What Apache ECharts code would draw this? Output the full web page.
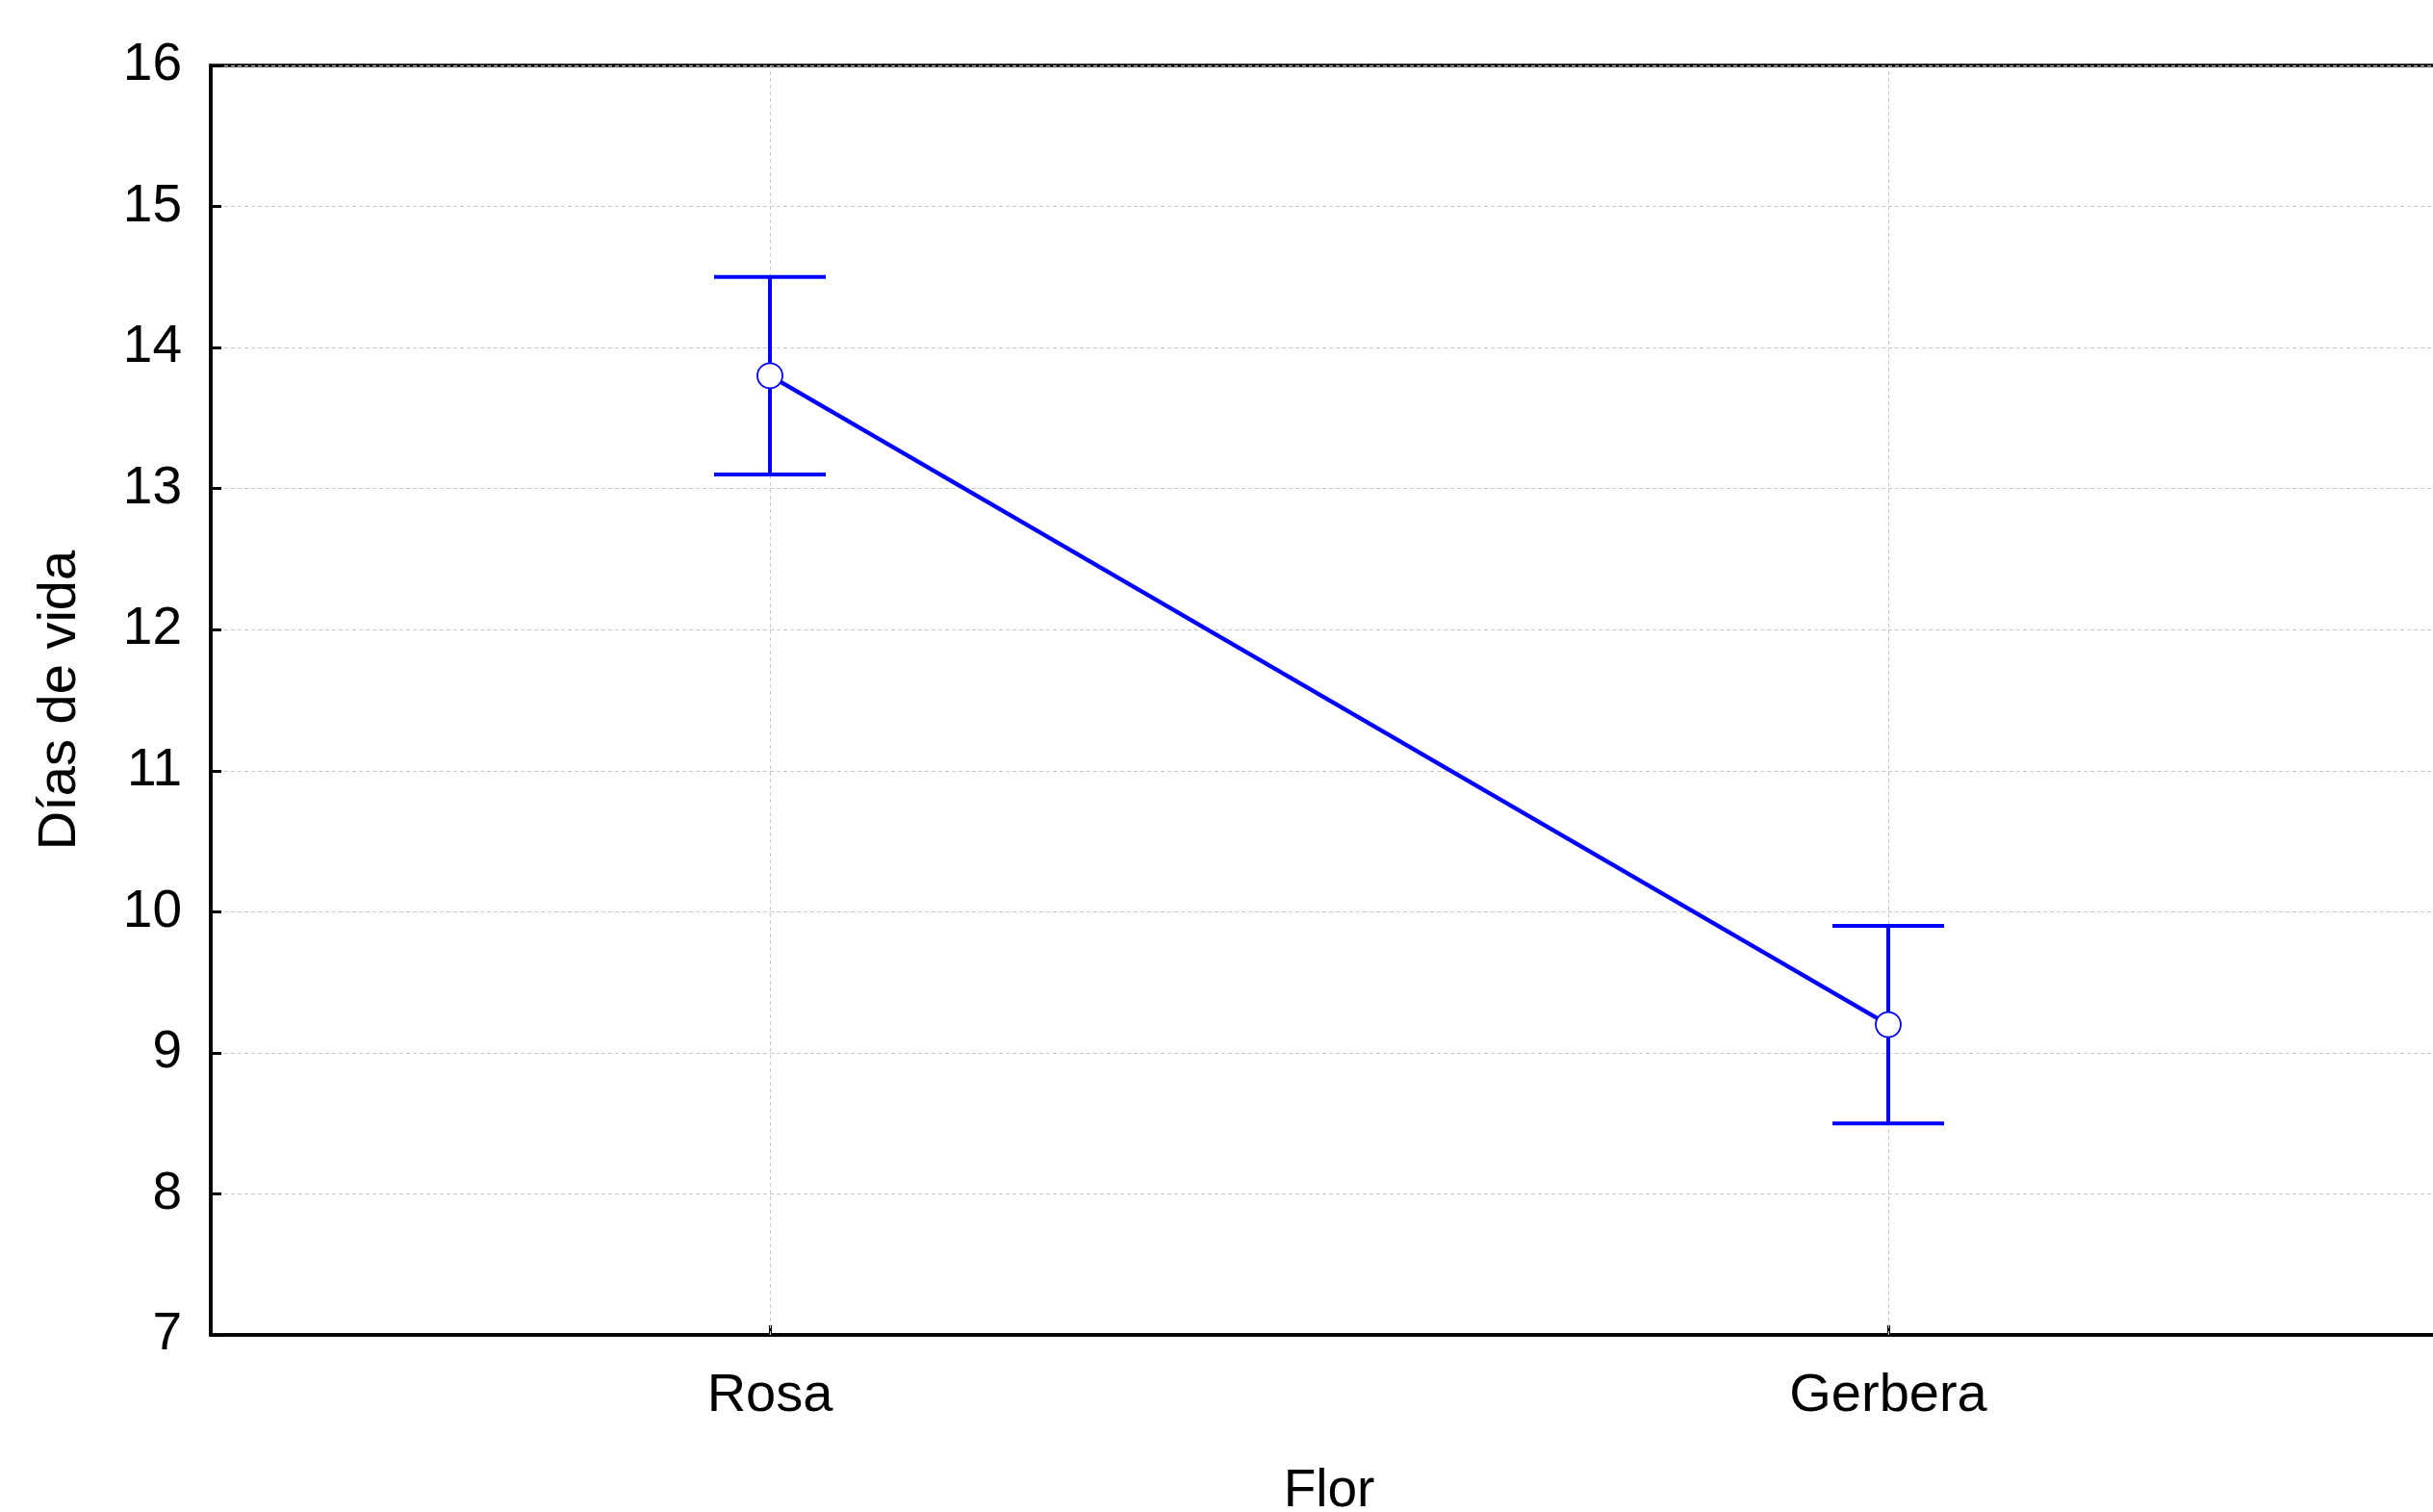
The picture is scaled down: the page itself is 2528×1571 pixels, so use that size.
<!DOCTYPE html>
<html>
<head>
<meta charset="utf-8">
<script src="https://cdn.jsdelivr.net/npm/echarts@6/dist/echarts.min.js"></script>
<style>
html,body{margin:0;padding:0;background:#fff;}
#chart{width:2528px;height:1571px;}
</style>
</head>
<body>
<div id="chart"></div>
<script>
var categories = ['Rosa', 'Gerbera'];
var means = [13.8, 9.2];
var lowers = [13.1, 8.5];
var uppers = [14.5, 9.9];
var yMin = 7, yMax = 16, yInterval = 1;
var xTitle = 'Flor';
var yTitle = 'Días de vida';

var FONT = '"Liberation Sans", Arial, sans-serif';
var BLUE = '#0000ff';

var errData = categories.map(function (c, i) { return [i, lowers[i], uppers[i]]; });

var chart = echarts.init(document.getElementById('chart'), null, {renderer: 'canvas'});
chart.setOption({
  animation: false,
  backgroundColor: '#ffffff',
  grid: {
    left: 219, top: 68, width: 2324, height: 1319,
    outerBoundsMode: 'none',
    containLabel: false,
    show: true, borderColor: '#000', borderWidth: 3.5, backgroundColor: 'transparent'
  },
  xAxis: {
    type: 'category',
    data: categories,
    boundaryGap: true,
    name: xTitle,
    nameLocation: 'middle',
    nameGap: 135,
    nameTextStyle: {color: '#000', fontSize: 55, fontFamily: FONT},
    axisLine: {show: true, lineStyle: {color: '#000', width: 3.5}},
    axisTick: {show: true, inside: true, alignWithLabel: true, length: 10, lineStyle: {color: '#000', width: 3}},
    axisLabel: {color: '#000', fontSize: 56, fontFamily: FONT, margin: 36},
    splitLine: {show: false}
  },
  yAxis: {
    type: 'value',
    min: yMin, max: yMax, interval: yInterval,
    name: yTitle,
    nameLocation: 'middle',
    nameGap: 128,
    nameTextStyle: {color: '#000', fontSize: 56, fontFamily: FONT},
    axisLine: {show: true, lineStyle: {color: '#000', width: 3.5}},
    axisTick: {show: true, inside: true, length: 11, lineStyle: {color: '#000', width: 3}},
    axisLabel: {color: '#000', fontSize: 55, fontFamily: FONT, margin: 30},
    splitLine: {show: true, lineStyle: {color: '#c8c8c8', width: 1, type: [4, 3]}}
  },
  series: [
    {
      type: 'custom',
      z: 2,
      data: errData,
      renderItem: function (params, api) {
        var x = api.value(0);
        var lo = api.coord([x, api.value(1)]);
        var hi = api.coord([x, api.value(2)]);
        var hw = 58;
        var st = {stroke: BLUE, lineWidth: 4};
        return {
          type: 'group',
          children: [
            {type: 'line', shape: {x1: lo[0], y1: lo[1], x2: hi[0], y2: hi[1]}, style: st},
            {type: 'line', shape: {x1: hi[0] - hw, y1: hi[1], x2: hi[0] + hw, y2: hi[1]}, style: st},
            {type: 'line', shape: {x1: lo[0] - hw, y1: lo[1], x2: lo[0] + hw, y2: lo[1]}, style: st}
          ]
        };
      }
    },
    {
      type: 'line',
      z: 3,
      data: means,
      symbol: 'circle',
      symbolSize: 26,
      lineStyle: {color: BLUE, width: 4.5},
      itemStyle: {color: '#ffffff', borderColor: BLUE, borderWidth: 1.8},
      markLine: {
        silent: true,
        symbol: 'none',
        label: {show: false},
        z: 1,
        lineStyle: {color: '#c8c8c8', width: 1, type: [4, 3]},
        data: categories.map(function (c) { return {xAxis: c}; })
      }
    }
  ]
});
</script>
</body>
</html>
